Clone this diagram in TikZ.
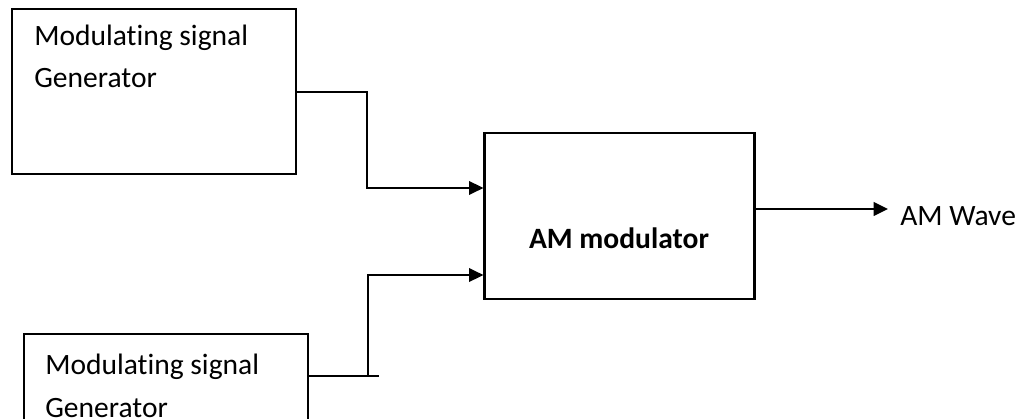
\documentclass[tikz,border=0pt]{standalone}
\usepackage{fontspec}
\setmainfont{Carlito}[Ligatures=NoCommon]
\usetikzlibrary{arrows.meta,positioning}
\tikzset{
  >={Triangle[length=3.6mm,width=3.4mm]},
  block/.style={draw,line width=1.5pt,minimum width=#1,minimum height=4.125cm,inner sep=0pt},
  block/.default=7.1cm,
  wire/.style={line width=1.4pt},
  caption/.style={font=\fontsize{21}{30.5}\selectfont,align=left,inner sep=0pt},
}

\begin{document}
\begin{tikzpicture}[x=0.025cm,y=-0.025cm]
  \useasboundingbox (0,0) rectangle (1021,419);
  \clip (0,0) rectangle (1021,419);
  % two signal generators, the lower one runs off the page
  \node[block,anchor=north west] (gen1) at (11,8) {};
  \node[block,anchor=north west] (gen2) at (23,333) {};
  \node[caption,anchor=base west] (cap1) at (34,88) {Modulating signal\\Generator};
  \node[caption,anchor=base west] (cap2) at (45,417) {Modulating signal\\Generator};
  % modulator
  \node[block=6.75cm,minimum height=4.15cm] (am) at (619.5,216) {};
  \node[caption,font=\fontsize{21}{30.5}\selectfont\bfseries] (amtxt) at (619,238) {AM modulator};
  \node[caption,anchor=base west] (wave) at (900,226) {AM Wave};
  % inputs
  \coordinate (in1) at ([yshift=0.7cm]am.west);
  \coordinate (in2) at ([yshift=-1.475cm]am.west);
  \coordinate (out2) at ([yshift=-1.075cm]gen2.north east);
  \draw[wire,->] (gen1.east) -- ++(70,0) |- (in1);
  \draw[wire] (out2) -- ++(70,0);
  \draw[wire,->] ([xshift=59*0.025cm]out2) |- (in2);
  % output
  \draw[wire,->] ([yshift=0.175cm]am.east) -- ([xshift=-0.3cm]wave.west |- 0,209);
\end{tikzpicture}
\end{document}
